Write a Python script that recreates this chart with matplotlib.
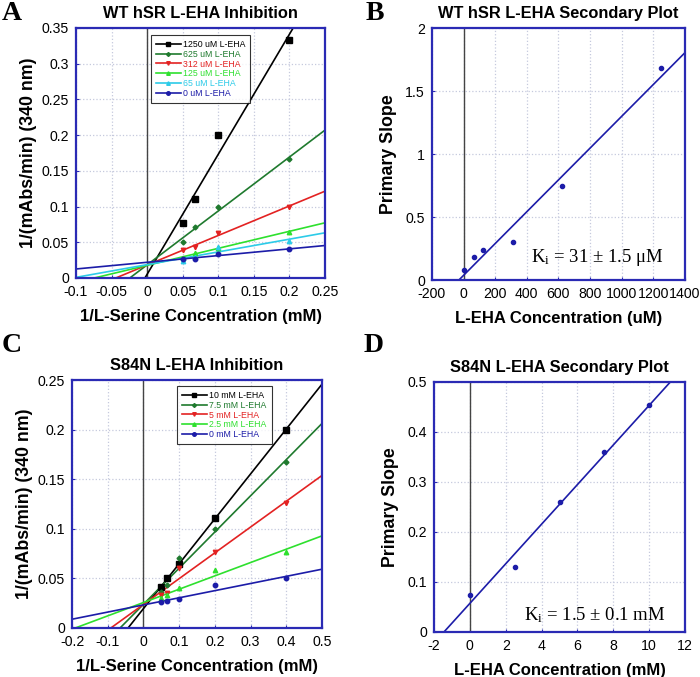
import numpy as np
import matplotlib
matplotlib.use('Agg')
import matplotlib.pyplot as plt
from matplotlib.ticker import FuncFormatter

# panel A: WT hSR primary plot (1/v vs 1/[L-Ser])
wt_inv_ser = [0.05, 0.0667, 0.1, 0.2]
wt_labels = ['1250 uM L-EHA', '625 uM L-EHA', '312 uM L-EHA',
             '125 uM L-EHA', '65 uM L-EHA', '0 uM L-EHA']
wt_rates = [
    [0.077, 0.111, 0.200, 0.333],
    [0.050, 0.071, 0.100, 0.167],
    [0.039, 0.043, 0.063, 0.100],
    [0.028, 0.035, 0.042, 0.065],
    [0.024, 0.029, 0.044, 0.052],
    [0.026, 0.027, 0.034, 0.040],
]

# panel B: WT secondary plot
wt_eha_conc = [0, 65, 125, 312, 625, 1250]
wt_slopes = [0.08, 0.18, 0.235, 0.30, 0.745, 1.68]

# panel C: S84N primary plot
s84n_inv_ser = [0.05, 0.0667, 0.1, 0.2, 0.4]
s84n_labels = ['10 mM L-EHA', '7.5 mM L-EHA', '5 mM L-EHA',
               '2.5 mM L-EHA', '0 mM L-EHA']
s84n_rates = [
    [0.041, 0.050, 0.065, 0.111, 0.200],
    [0.036, 0.043, 0.071, 0.100, 0.167],
    [0.033, 0.035, 0.060, 0.077, 0.126],
    [0.030, 0.033, 0.040, 0.058, 0.077],
    [0.026, 0.027, 0.029, 0.043, 0.050],
]

# panel D: S84N secondary plot
s84n_eha_conc = [0, 2.5, 5, 7.5, 10]
s84n_slopes = [0.073, 0.13, 0.26, 0.36, 0.453]

wt_colors = ['#000000', '#1f7a2e', '#e32222', '#2ee02e', '#2ccbe8', '#1c1ca8']
wt_markers = ['s', 'D', 'v', '^', '^', 'o']
s84n_colors = ['#000000', '#1f7a2e', '#e32222', '#2ee02e', '#1c1ca8']
s84n_markers = ['s', 'D', 'v', '^', 'o']

plt.rcParams['font.family'] = ['Liberation Sans', 'DejaVu Sans']
SPINE = '#2a2ab4'
FIT_BLUE = '#1c1ca8'
SERIF = ['Liberation Serif', 'DejaVu Serif']


def style_axes(ax, xlim, ylim, xticks, yticks):
    ax.set_xlim(xlim)
    ax.set_ylim(ylim)
    ax.set_xticks(xticks)
    ax.set_yticks(yticks)
    ax.xaxis.set_major_formatter(FuncFormatter(lambda v, p: f'{v:g}'))
    ax.yaxis.set_major_formatter(FuncFormatter(lambda v, p: f'{v:g}'))
    ax.grid(True, linestyle=':', color='#c5c9dd', linewidth=0.9)
    ax.set_axisbelow(True)
    for s in ax.spines.values():
        s.set_color(SPINE)
        s.set_linewidth(1.6)
    ax.tick_params(length=2, direction='in', color=SPINE, labelsize=10.2)
    ax.tick_params(axis='x', pad=5)
    ax.tick_params(axis='y', pad=5)
    # vertical line at x = 0
    ax.axvline(0, color='#444444', linewidth=1.0, zorder=1)


def fit_line(ax, x, y, color, xlim):
    # straight-line fit, drawn across the whole axis and left to the clip
    m, b = np.polyfit(x, y, 1)
    xx = np.array(xlim)
    ax.plot(xx, m * xx + b, color=color, linewidth=1.2, zorder=2)


def primary_plot(ax, xs, all_rates, labels, colors, markers, xlim, leg_anchor):
    handles = []
    for lab, rates, c, mk in zip(labels, all_rates, colors, markers):
        fit_line(ax, xs, rates, c, xlim)
        ms = {'s': 4, 'D': 2.5}.get(mk, 3.2)
        ax.plot(xs, rates, linestyle='none', marker=mk, color=c, markersize=ms, zorder=3)
        h, = ax.plot([], [], color=c, marker=mk, markersize=ms * 0.8, linewidth=1.2, label=lab)
        handles.append(h)
    leg = ax.legend(handles=handles, loc='upper left', bbox_to_anchor=leg_anchor,
                    fontsize=6.3, frameon=True, fancybox=False, edgecolor='black',
                    handlelength=2.9, handletextpad=0.25, labelspacing=0.1,
                    borderpad=0.55, borderaxespad=0)
    leg.get_frame().set_linewidth(0.8)
    for t, c in zip(leg.get_texts(), colors):
        t.set_color(c)


fig = plt.figure(figsize=(7, 6.77), dpi=100)

# ---- A ----
axA = fig.add_axes([0.1086, 0.5894, 0.3557, 0.3693])
xlimA = (-0.1, 0.25)
style_axes(axA, xlimA, (0, 0.35), np.arange(-0.1, 0.26, 0.05), np.arange(0, 0.36, 0.05))
primary_plot(axA, wt_inv_ser, wt_rates, wt_labels, wt_colors, wt_markers, xlimA, (0.30, 0.972))
axA.set_title('WT hSR L-EHA Inhibition', fontsize=11.8, fontweight='bold', pad=7)
axA.set_xlabel('1/L-Serine Concentration (mM)', fontsize=12, fontweight='bold', labelpad=7)
axA.set_ylabel('1/(mAbs/min) (340 nm)', fontsize=12.8, fontweight='bold', labelpad=3)

# ---- B ----
axB = fig.add_axes([0.617, 0.5864, 0.3614, 0.3722])
xlimB = (-200, 1400)
style_axes(axB, xlimB, (0, 2), np.arange(-200, 1401, 200), np.arange(0, 2.01, 0.5))
fit_line(axB, wt_eha_conc, wt_slopes, FIT_BLUE, xlimB)
axB.plot(wt_eha_conc, wt_slopes, linestyle='none', marker='o', color=FIT_BLUE, markersize=3, zorder=3)
axB.text(0.39, 0.09, r'$\mathregular{K_i}$ = 31 ± 1.5 μM', transform=axB.transAxes,
         fontsize=13.5, family=SERIF, va='center')
axB.set_title('WT hSR L-EHA Secondary Plot', fontsize=11.8, fontweight='bold', pad=7)
axB.set_xlabel('L-EHA Concentration (uM)', fontsize=12, fontweight='bold', labelpad=7)
axB.set_ylabel('Primary Slope', fontsize=12.8, fontweight='bold', labelpad=6)

# ---- C ----
axC = fig.add_axes([0.1029, 0.0724, 0.357, 0.3663])
xlimC = (-0.2, 0.5)
style_axes(axC, xlimC, (0, 0.25), np.arange(-0.2, 0.51, 0.1), np.arange(0, 0.26, 0.05))
primary_plot(axC, s84n_inv_ser, s84n_rates, s84n_labels, s84n_colors, s84n_markers, xlimC, (0.42, 0.976))
axC.set_title('S84N L-EHA Inhibition', fontsize=11.8, fontweight='bold', pad=7)
axC.set_xlabel('1/L-Serine Concentration (mM)', fontsize=12, fontweight='bold', labelpad=7)
axC.set_ylabel('1/(mAbs/min) (340 nm)', fontsize=12.8, fontweight='bold', labelpad=3)

# ---- D ----
axD = fig.add_axes([0.62, 0.0665, 0.3586, 0.3693])
xlimD = (-2, 12)
style_axes(axD, xlimD, (0, 0.5), np.arange(-2, 12.1, 2), np.arange(0, 0.51, 0.1))
fit_line(axD, s84n_eha_conc, s84n_slopes, FIT_BLUE, xlimD)
axD.plot(s84n_eha_conc, s84n_slopes, linestyle='none', marker='o', color=FIT_BLUE, markersize=3, zorder=3)
axD.text(0.36, 0.068, r'$\mathregular{K_i}$ = 1.5 ± 0.1 mM', transform=axD.transAxes,
         fontsize=13.5, family=SERIF, va='center')
axD.set_title('S84N L-EHA Secondary Plot', fontsize=11.8, fontweight='bold', pad=7)
axD.set_xlabel('L-EHA Concentration (mM)', fontsize=12, fontweight='bold', labelpad=7)
axD.set_ylabel('Primary Slope', fontsize=12.8, fontweight='bold', labelpad=6)

# panel letters
for x, y, letter in [(0.003, 0.998, 'A'), (0.522, 0.998, 'B'), (0.003, 0.508, 'C'), (0.52, 0.508, 'D')]:
    fig.text(x, y, letter, fontsize=20, fontweight='bold', va='top', ha='left', family=SERIF)

plt.savefig('out.png', dpi=100)
plt.close()
